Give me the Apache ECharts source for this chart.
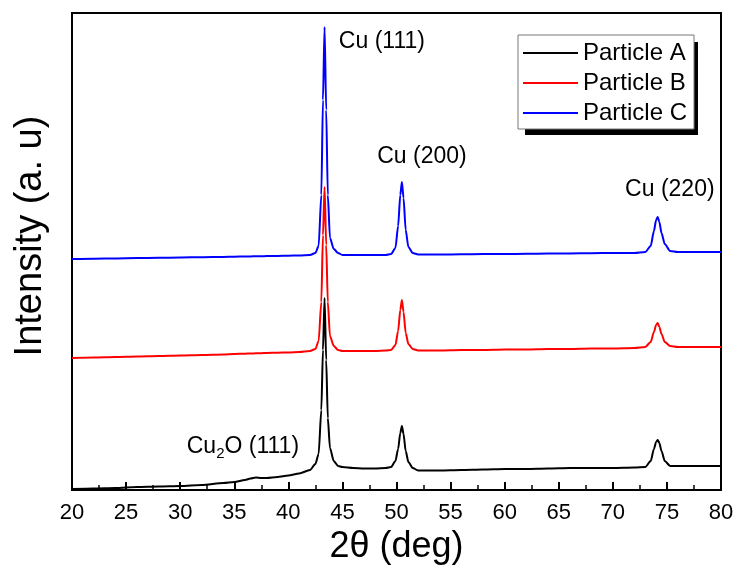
<!DOCTYPE html>
<html>
<head>
<meta charset="utf-8">
<script src="https://cdn.jsdelivr.net/npm/echarts@6/dist/echarts.min.js"></script>
<style>html,body{margin:0;padding:0;background:#fff}#c{width:737px;height:570px}</style>
</head>
<body>
<div id="c"></div>
<script>
// 2θ positions (deg)
const twoTheta = [20,22,24,26,28,30,32,34,35,36,36.5,37,37.5,38,39,40,41,
  42.0,42.5,42.8,43.05,43.2,43.35,43.5,43.65,43.85,44.2,44.6,
  45,46,47,48,49,
  49.5,49.9,50.15,50.35,50.5,50.65,50.85,51.1,51.5,
  52,54,56,58,60,62,64,66,68,70,72,
  73.0,73.5,73.8,74.0,74.15,74.3,74.5,74.8,75.3,
  76,78,80];
// intensities (a.u., stacked offsets as in the figure)
const particleA = [1,1.5,2,3,3.5,4,5,7,8,10,11.5,12.5,12,12,13,14.5,16.5,
  20,26,36,80,140,192,130,72,42,29,24,
  23,22,21.5,21.5,22,
  23,29,41,57,64,56,39,28,22,
  19.5,19.5,20,20.5,21,21,21.5,22,22,22,22.5,
  23,29,41,48,50,47,39,29,24,
  24,24,24];
const particleB = [132,132.5,133,133.5,134,134.5,135,135.5,136,136.3,136.5,136.7,136.8,137,137.3,137.6,138,
  139,141,149,188,255,303,245,188,154,144,140,
  139,139,139,139,139.5,
  140,145,159,180,190,178,157,146,141,
  139.5,139.5,140,140,140.5,140.5,141,141,141.5,141.5,142,
  143,148,158,165,167,163,156,148,144,
  143,143,143];
const particleC = [231,231.3,231.6,231.9,232.2,232.5,232.8,233.1,233.3,233.5,233.6,233.7,233.8,233.9,234.1,234.3,234.5,
  235,237,244,295,390,463,380,295,252,241,237,
  235,235,235,235,235,
  236,242,264,295,308,292,260,243,237,
  235.5,235.5,235.7,235.9,236,236.2,236.4,236.6,236.8,237,237,
  238,244,259,270,273,268,257,246,239,
  238,238,238];
const seriesNames = ['Particle A','Particle B','Particle C'];
const xTicks = {min: 20, max: 80, interval: 5};
// peak annotations: [2θ, intensity, text]
const annotations = [
  [48.65, 448, 'Cu (111)'],
  [52.35, 333, 'Cu (200)'],
  [75.27, 300, 'Cu (220)'],
  [35.8, 43, 'Cu{s|2}O (111)']
];

const FONT = 'Liberation Sans, Arial, sans-serif';
const chart = echarts.init(document.getElementById('c'), null, {renderer: 'canvas'});
const pair = arr => twoTheta.map((x, i) => [x, arr[i]]);
const colors = ['#000000', '#ff0000', '#0000ff'];
const datas = [particleA, particleB, particleC];

const series = seriesNames.map((n, i) => ({
  name: n, type: 'line', data: pair(datas[i]), symbol: 'none',
  smooth: 0.25, smoothMonotone: 'x',
  lineStyle: {color: colors[i], width: 2}, itemStyle: {color: colors[i]},
  z: 5 - i, animation: false
}));
series[0].markPoint = {
  symbol: 'rect', symbolSize: 1, itemStyle: {color: 'rgba(0,0,0,0)'},
  label: {show: true, position: 'inside', color: '#000', fontSize: 23, fontFamily: FONT,
    rich: {s: {fontSize: 15, fontFamily: FONT, color: '#000', verticalAlign: 'bottom', padding: [14, 0, 0, 0]}}},
  data: annotations.map(a => ({coord: [a[0], a[1]], value: a[2], label: {formatter: a[2]}}))
};

chart.setOption({
  animation: false,
  backgroundColor: '#fff',
  grid: {left: 72, right: 16, top: 13, bottom: 80, show: true, borderColor: '#000', borderWidth: 2, containLabel: false},
  graphic: [{
    type: 'rect', left: 525, top: 42, z: 1, silent: true,
    shape: {width: 173, height: 93}, style: {fill: '#000'}
  }],
  legend: {
    data: seriesNames, orient: 'vertical', left: 518, top: 35, z: 10,
    icon: 'rect', itemWidth: 55, itemHeight: 2, itemGap: 6,
    padding: [6, 7, 4, 5],
    backgroundColor: '#fff', borderColor: '#777', borderWidth: 1,
    textStyle: {fontSize: 24, fontFamily: FONT, color: '#000', lineHeight: 23}
  },
  xAxis: {
    type: 'value', min: xTicks.min, max: xTicks.max, interval: xTicks.interval,
    name: '2θ (deg)', nameLocation: 'middle', nameGap: 36,
    nameTextStyle: {fontSize: 36, fontFamily: FONT, color: '#000'},
    axisLine: {show: true, lineStyle: {color: '#000', width: 2}},
    axisTick: {show: true, inside: true, length: 8, lineStyle: {color: '#000', width: 2}},
    minorTick: {show: true, splitNumber: 2, length: 5, lineStyle: {color: '#000', width: 1.5}},
    axisLabel: {fontSize: 22, fontFamily: FONT, color: '#000', margin: 12},
    splitLine: {show: false}
  },
  yAxis: {
    type: 'value', min: 0, max: 477,
    name: 'Intensity (a. u)', nameLocation: 'middle', nameGap: 22, nameRotate: 90,
    nameTextStyle: {fontSize: 38, fontFamily: FONT, color: '#000', padding: [0, 0, 0, 31]},
    axisLine: {show: true, lineStyle: {color: '#000', width: 2}},
    axisTick: {show: false}, axisLabel: {show: false}, splitLine: {show: false}
  },
  series: series
});
</script>
</body>
</html>
